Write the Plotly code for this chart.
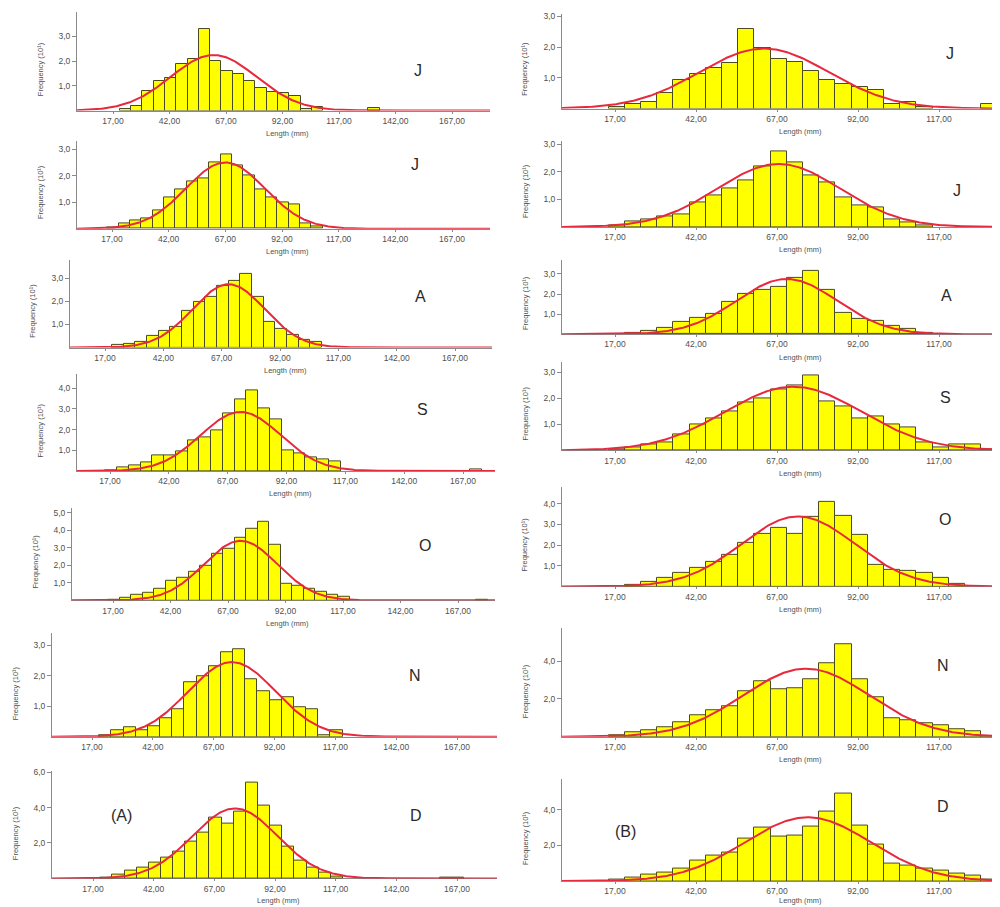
import numpy as np
import plotly.graph_objects as go

# ---------------- data (frequency, x10^1) ----------------
bin_width = 5
bin_start = 15  # left edge of first bin (mm)

months = ["J", "J", "A", "S", "O", "N", "D"]

# Panel (A)
a_jun = [0, 0.05, 0.2, 0.8, 1.2, 1.3, 1.9, 2.1, 3.3, 2.0, 1.6, 1.5, 1.2, 0.9, 0.75, 0.7, 0.6, 0.05, 0.15, 0, 0, 0, 0, 0.1]
a_jul = [0.05, 0.2, 0.3, 0.4, 0.7, 1.2, 1.5, 1.8, 1.9, 2.5, 2.8, 2.4, 2.0, 1.5, 1.2, 1.0, 0.9, 0.2, 0.1]
a_aug = [0, 0.1, 0.17, 0.25, 0.5, 0.72, 0.9, 1.6, 2.0, 2.2, 2.7, 2.9, 3.2, 2.2, 1.1, 0.8, 0.55, 0.35, 0.25]
a_sep = [0.05, 0.16, 0.27, 0.43, 0.75, 0.75, 0.96, 1.47, 1.6, 1.98, 2.8, 3.47, 3.9, 3.0, 2.48, 1.0, 0.83, 0.64, 0.54, 0.46,
         0, 0, 0, 0, 0, 0, 0, 0, 0, 0, 0, 0.08]
a_oct = [0.05, 0.15, 0.3, 0.46, 0.67, 1.09, 1.31, 1.62, 2.0, 2.67, 2.93, 3.6, 4.08, 4.48, 3.2, 0.93, 0.84, 0.65, 0.5, 0.32, 0.2,
         0, 0, 0, 0, 0, 0, 0, 0, 0, 0, 0, 0.05]
a_nov = [0, 0.05, 0.2, 0.3, 0.22, 0.33, 0.61, 0.9, 1.8, 2.0, 2.3, 2.76, 2.89, 1.89, 1.5, 1.2, 1.31, 0.98, 0.9, 0.05, 0.2]
a_dec = [0, 0.05, 0.2, 0.45, 0.6, 0.9, 1.2, 1.5, 2.1, 2.6, 3.45, 3.1, 3.75, 5.4, 4.09, 3.0, 1.78, 0.98, 0.6, 0.34, 0.1,
         0, 0, 0, 0, 0, 0, 0, 0, 0.05, 0.05]

# Panel (B)
b_jun = [0.05, 0.16, 0.22, 0.5, 0.92, 1.13, 1.32, 1.49, 2.59, 1.96, 1.62, 1.51, 1.21, 0.92, 0.81, 0.7, 0.61, 0.14, 0.2, 0.05, 0, 0, 0, 0.14]
b_jul = [0.05, 0.2, 0.26, 0.38, 0.47, 0.9, 1.16, 1.4, 1.7, 2.18, 2.72, 2.34, 1.88, 1.62, 1.08, 0.78, 0.71, 0.29, 0.18, 0.05]
b_aug = [0, 0.08, 0.16, 0.3, 0.63, 0.79, 0.99, 1.61, 2.03, 2.19, 2.36, 2.8, 3.16, 2.19, 1.07, 0.77, 0.66, 0.41, 0.28, 0.05]
b_sep = [0.05, 0.13, 0.23, 0.32, 0.6, 0.98, 1.24, 1.49, 1.85, 2.0, 2.33, 2.48, 2.89, 1.87, 1.68, 1.21, 1.3, 0.99, 0.9, 0.32, 0.13, 0.22, 0.22, 0.05]
b_oct = [0, 0.08, 0.24, 0.43, 0.64, 0.91, 1.2, 1.53, 2.09, 2.52, 2.81, 2.52, 3.37, 4.09, 3.42, 2.49, 1.04, 0.8, 0.77, 0.64, 0.43, 0.1]
b_nov = [0.1, 0.23, 0.35, 0.52, 0.75, 1.13, 1.41, 1.62, 2.4, 2.92, 2.49, 2.57, 3.04, 3.88, 4.87, 3.04, 2.09, 0.97, 0.89, 0.71, 0.63, 0.4, 0.28, 0.05]
b_dec = [0.08, 0.2, 0.34, 0.48, 0.71, 1.14, 1.45, 1.6, 2.38, 2.98, 2.48, 2.57, 3.07, 3.91, 4.93, 3.09, 2.05, 0.99, 0.89, 0.71, 0.61, 0.43, 0.3, 0.08]

# fitted normal curves: (mean mm, sd mm, peak frequency)
a_fit = [(61.5, 19.0, 2.25), (67.0, 17.5, 2.5), (70.0, 15.5, 2.75), (72.5, 17.0, 2.85),
         (72.5, 16.0, 3.4), (74.5, 18.0, 2.45), (75.5, 17.5, 3.95)]
b_fit = [(63.0, 20.0, 1.95), (67.5, 19.0, 2.28), (70.0, 15.5, 2.75), (72.0, 21.0, 2.45),
         (73.5, 17.5, 3.38), (76.0, 19.5, 3.6), (76.5, 19.5, 3.58)]

a_series = [a_jun, a_jul, a_aug, a_sep, a_oct, a_nov, a_dec]
b_series = [b_jun, b_jul, b_aug, b_sep, b_oct, b_nov, b_dec]

x_ticks_a = [17, 42, 67, 92, 117, 142, 167]
x_ticks_b = [17, 42, 67, 92, 117]
a_yticks = [[1, 2, 3], [1, 2, 3], [1, 2, 3], [1, 2, 3, 4], [1, 2, 3, 4, 5], [1, 2, 3], [2, 4, 6]]
b_yticks = [[1, 2, 3], [1, 2, 3], [1, 2, 3], [1, 2, 3], [1, 2, 3, 4], [2, 4], [2, 4]]

def fmt_x(v):
    return f"{v:.2f}".replace(".", ",")

def fmt_y(v):
    return f"{v:.1f}".replace(".", ",")

# ---------------- layout geometry (screen pixels) ----------------
OFF = 8               # page body margin
W, H = 1000 - OFF, 907 - OFF

def px_x(px):
    return (px - OFF) / W

def px_y(py):
    return 1 - (py - OFF) / H

# left column: y-axis px, px of 17, px of 167, right end px, baseline px, px per unit, top px
a_geo = [(77, 113, 452, 490, 107, 24.8, 8),
         (77, 112, 452, 490, 225.7, 26.6, 138),
         (70, 105, 455, 492, 345, 23.1, 257),
         (77, 110, 463, 495, 469, 20.8, 372),
         (72, 113, 458, 495, 599, 17.6, 506),
         (52, 92, 457, 497, 736, 30.6, 632),
         (52, 93, 457, 497, 878.3, 17.8, 770)]
# right column: baseline, px per unit, top
b_geo = [(105, 30.9, 10), (224, 27.8, 138), (331.7, 20.2, 257), (448.3, 26.1, 360),
         (585, 20.8, 485), (736, 19.0, 627), (881, 17.9, 778)]
a_letter_pos = [(418, 67), (415, 161), (420, 294), (422, 407), (425, 544), (415, 674), (416, 815)]
b_letter_pos = [(950, 50), (957, 187), (946, 293), (945, 395), (945, 518), (943, 664), (943, 806)]

FONT = "Liberation Sans, Arial, sans-serif"
YELLOW = "#FFFF00"
EDGE = "#4a4a20"
RED = "#E8283C"
AXC = "#8a8a8a"
TXT = "#505050"

fig = go.Figure()
layout = {}
annotations = []

def note(x, y, text, size, color, angle=0):
    annotations.append(dict(x=px_x(x), y=px_y(y), xref="paper", yref="paper", text=text,
                            xanchor="center", yanchor="middle", textangle=angle,
                            showarrow=False, font=dict(family=FONT, size=size, color=color)))

panels = []
for r in range(7):
    ax, p17, p167, rpx, base, unit, top = a_geo[r]
    s = (p167 - p17) / 150.0
    panels.append(dict(data=a_series[r], fit=a_fit[r], x0=ax, x1=rpx,
                       xmin=17 - (p17 - ax) / s, xmax=17 + (rpx - p17) / s,
                       base=base, top=top, ymax=(base - top) / unit,
                       xt=x_ticks_a, yt=a_yticks[r], letter=months[r],
                       lpos=a_letter_pos[r], xtitle=(r != 5), xtitle_x=(ax + rpx) / 2 + 4))
for r in range(7):
    base, unit, top = b_geo[r]
    ax, p17, p117, rpx = 562, 615, 939, 1000
    s = (p117 - p17) / 100.0
    panels.append(dict(data=b_series[r], fit=b_fit[r], x0=ax, x1=rpx,
                       xmin=17 - (p17 - ax) / s, xmax=17 + (rpx - p17) / s,
                       base=base, top=top, ymax=(base - top) / unit,
                       xt=x_ticks_b, yt=b_yticks[r], letter=months[r],
                       lpos=b_letter_pos[r], xtitle=True, xtitle_x=800))

for i, p in enumerate(panels):
    n = i + 1
    sfx = "" if n == 1 else str(n)
    xa, ya = "x" + sfx, "y" + sfx
    centers = [bin_start + bin_width * (k + 0.5) for k, v in enumerate(p["data"]) if v > 0]
    heights = [v for v in p["data"] if v > 0]
    fig.add_trace(go.Bar(x=centers, y=heights, width=bin_width,
                         marker=dict(color=YELLOW, line=dict(color=EDGE, width=1)),
                         xaxis=xa, yaxis=ya, showlegend=False))
    mu, sd, pk = p["fit"]
    xs = np.linspace(p["xmin"], p["xmax"], 400)
    ys = pk * np.exp(-((xs - mu) ** 2) / (2 * sd ** 2))
    fig.add_trace(go.Scatter(x=xs, y=ys, mode="lines", line=dict(color=RED, width=2),
                             xaxis=xa, yaxis=ya, showlegend=False, hoverinfo="skip"))
    layout["xaxis" + sfx] = dict(
        domain=[max(0, px_x(p["x0"])), min(1, px_x(p["x1"]))], range=[p["xmin"], p["xmax"]], anchor=ya,
        tickvals=p["xt"], ticktext=[fmt_x(v) for v in p["xt"]],
        ticks="outside", ticklen=2, tickcolor=AXC, showline=True, linecolor=AXC, linewidth=1,
        showgrid=False, zeroline=False, layer="below traces",
        tickfont=dict(family=FONT, size=8.5, color=TXT))
    layout["yaxis" + sfx] = dict(
        domain=[px_y(p["base"]), min(1, px_y(p["top"]))], range=[0, p["ymax"]], anchor=xa,
        tickvals=p["yt"], ticktext=[fmt_y(v) for v in p["yt"]],
        ticks="outside", ticklen=4, tickcolor=AXC, showline=True, linecolor=AXC, linewidth=1,
        showgrid=False, zeroline=False, layer="below traces",
        tickfont=dict(family=FONT, size=8.5, color=TXT))
    lx, ly = p["lpos"]
    note(lx, ly, p["letter"], 16, "#2a2a2a")
    yc = p["base"] - 0.42 * (p["base"] - p["top"])
    note(p["x0"] - 37, yc, "Frequency (10¹)", 7.5, TXT, angle=-90)
    if p["xtitle"]:
        note(p["xtitle_x"], min(p["base"] + 23, 900), "Length (mm)", 7.5, TXT)

note(121, 815, "(A)", 16, "#2a2a2a")
note(625, 831, "(B)", 16, "#2a2a2a")

fig.update_layout(**layout)
fig.update_layout(width=W, height=H, margin=dict(l=0, r=0, t=0, b=0),
                  paper_bgcolor="white", plot_bgcolor="white",
                  annotations=annotations, bargap=0, showlegend=False)
fig.write_html("out.html")
